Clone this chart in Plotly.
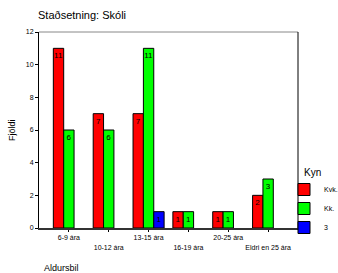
import plotly.graph_objects as go

categories = ["6-9 ára", "10-12 ára", "13-15 ára", "16-19 ára", "20-25 ára", "Eldri en 25 ára"]
kvk = [11, 7, 7, 1, 1, 2]
kk = [6, 6, 11, 1, 1, 3]
s3 = [None, None, 1, None, None, None]
series = [("Kvk.", kvk, "#FF0000"), ("Kk.", kk, "#00FF00"), ("3", s3, "#0000FF")]
yticks = [0, 2, 4, 6, 8, 10, 12]

fig = go.Figure()
for name, vals, col in series:
    fig.add_trace(go.Bar(
        x=categories, y=vals, name=name,
        marker=dict(color=col, line=dict(color="black", width=1)),
        text=[str(v) if v else "" for v in vals],
        textposition="inside", insidetextanchor="end", textangle=0,
        constraintext="none",
        textfont=dict(size=8, color="black", family="Arial"),
    ))

ticktext = [c if i % 2 == 0 else "<br>" + c for i, c in enumerate(categories)]

fig.update_layout(
    template="none",
    width=338, height=273,
    margin=dict(l=39, r=40, t=32, b=45, autoexpand=False),
    paper_bgcolor="white", plot_bgcolor="white",
    barmode="group", bargap=0.22, bargroupgap=0,
    font=dict(family="Arial", size=8, color="black"),
    showlegend=True,
    title=dict(text="Staðsetning: Skóli", x=38/338, xanchor="left", y=1-15/273, yanchor="middle",
               font=dict(size=11, family="Arial", color="black")),
    legend=dict(x=(284-39)/259, xanchor="left",
                y=(228-175)/196, yanchor="top",
                font=dict(size=7, color="black"), itemwidth=30, bgcolor="rgba(0,0,0,0)"),
    xaxis=dict(range=[-0.75, 5.75], tickmode="array", tickvals=categories, ticktext=ticktext,
               tickangle=0, automargin=False,
               tickfont=dict(size=7, color="black"), showline=True, linecolor="#333", linewidth=2,
               mirror=False, ticks="outside", ticklen=2, tickcolor="black", showgrid=False, zeroline=False),
    yaxis=dict(range=[0, 12], tickvals=yticks, tickfont=dict(size=7, color="black"), showline=True,
               automargin=False, linecolor="black", linewidth=1, ticks="outside", ticklen=3,
               tickcolor="black", showgrid=False, zeroline=False),
    annotations=[
        dict(text="Fjöldi", x=-27/259, y=0.5, xref="paper", yref="paper", textangle=-90,
             showarrow=False, font=dict(size=9, color="black"), xanchor="center", yanchor="middle"),
        dict(text="Aldursbil", x=3/259, y=-(268-228)/196, xref="paper", yref="paper", showarrow=False,
             xanchor="left", yanchor="middle", font=dict(size=9, color="black")),
        dict(text="Kyn", x=(302-39)/259, y=(228-172)/196, xref="paper", yref="paper", showarrow=False,
             xanchor="left", yanchor="middle", font=dict(size=10, color="black")),
    ],
)
fig.add_shape(type="line", xref="paper", yref="paper", x0=0, x1=1, y0=1, y1=1, line=dict(color="#888", width=1))
fig.add_shape(type="line", xref="paper", yref="paper", x0=1, x1=1, y0=0, y1=1, line=dict(color="black", width=1))

fig.write_html("out.html", config={"displayModeBar": False},
               post_script="document.body.style.margin='0';")
